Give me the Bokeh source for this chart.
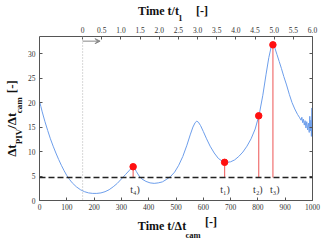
from bokeh.plotting import figure
from bokeh.models import (Range1d, LinearAxis, FixedTicker, Span, Arrow,
                          VeeHead, NumeralTickFormatter)
from bokeh.core.properties import value
from bokeh.embed import file_html
from bokeh.resources import INLINE

# ---------------- data ----------------
t = [0, 5, 10, 20, 30, 40, 50, 60, 70, 80, 90, 100, 110, 120, 135, 150, 165, 180,
     195, 210, 225, 240, 255, 270, 285, 300, 315, 330, 338, 343, 348, 355, 365,
     375, 390, 405, 420, 435, 450, 465, 480, 495, 510, 525, 540, 552, 562, 570,
     576, 582, 590, 600, 612, 625, 640, 655, 670, 685, 700, 715, 730, 745, 760,
     775, 790, 805, 818, 830, 840, 848, 854, 858, 863, 870, 878, 886, 895, 905,
     915, 925, 935, 945, 953, 958, 961, 964, 967, 970, 973, 976, 979, 982, 985,
     988, 990, 992, 994, 996, 998, 999, 1000]
ratio = [20.3, 19.2, 18.1, 16.1, 14.3, 12.6, 11.1, 9.7, 8.4, 7.2, 6.1, 5.1, 4.3,
         3.6, 2.8, 2.2, 1.8, 1.55, 1.45, 1.45, 1.55, 1.8, 2.2, 2.8, 3.5, 4.4, 5.3,
         6.2, 6.7, 6.9, 6.6, 5.9, 5.0, 4.4, 3.9, 3.6, 3.5, 3.6, 3.8, 4.3, 4.9, 5.8,
         7.2, 9.0, 11.3, 13.4, 15.0, 15.9, 16.2, 16.0, 15.3, 14.1, 12.6, 11.1, 9.7,
         8.6, 8.0, 7.8, 7.9, 8.3, 9.0, 9.9, 11.1, 12.6, 14.6, 17.6, 21.5, 25.8,
         29.2, 31.2, 31.8, 31.7, 31.0, 29.8, 28.4, 27.0, 25.3, 23.6, 21.7, 20.0,
         18.7, 17.6, 16.9, 16.4, 17.0, 15.9, 16.6, 15.4, 16.3, 14.8, 16.1, 14.4,
         15.8, 13.9, 17.2, 14.2, 16.4, 13.1, 18.9, 13.4, 14.5]

mark_t = [343, 678, 803, 855]
mark_y = [6.9, 7.8, 17.3, 31.8]
mark_labels = ["t₄)", "t₁)", "t₂)", "t₃)"]
label_t = [350, 680, 800, 862]
label_y = [2.2, 2.2, 2.2, 2.2]
threshold = 4.7

t_ref = 158.0            # t / t1 = 0
t1 = (1000 - t_ref) / 6  # scale of the upper axis

bottom_ticks = [0, 100, 200, 300, 400, 500, 600, 700, 800, 900, 1000]
left_ticks = [0, 5, 10, 15, 20, 25, 30]
top_ticks = [0, 0.5, 1.0, 1.5, 2.0, 2.5, 3.0, 3.5, 4.0, 4.5, 5.0, 5.5, 6.0]
top_labels = ["0", "0.5", "1.0", "1.5", "2.0", "2.5", "3.0", "3.5", "4.0",
              "4.5", "5.0", "5.5", "6.0"]

# axis titles, split into normal text and subscripts (em spaces keep gaps)
EM, EN, THREE, FOUR, THIN, HAIR = "\u2003", "\u2002", "\u2004", "\u2005", "\u2009", "\u200a"
x_title = "Time t/Δt" + EM + EM + THREE
x_title_unit = EM * 5 + EN + THREE + "[-]"
x_title_sub = EM * 4 + "cam"
top_title = "Time t/t" + EM + THREE + HAIR + "[-]" + EN
top_title_sub = EM + "1"
y_title = "Δt" + EM + THIN + "/Δt" + EM + FOUR + " [-]"
y_title_sub = "PIV" + EM + EN + THIN + "cam" + EN

# ---------------- figure ----------------
W, H = 333, 242
SERIF = "Liberation Serif"
AX = "#555555"

p = figure(width=W, height=H, x_range=Range1d(0, 1000), y_range=Range1d(0, 33.5),
           output_backend="svg", toolbar_location=None,
           min_border_left=36, min_border_right=21, min_border_top=34,
           min_border_bottom=34)
p.outline_line_color = None
p.xgrid.visible = False
p.ygrid.visible = False


def style(ax, standoff=3):
    ax.axis_line_color = AX
    ax.major_tick_line_color = AX
    ax.minor_tick_line_color = None
    ax.major_tick_in = 3
    ax.major_tick_out = 0
    ax.major_label_text_font = SERIF
    ax.major_label_text_font_size = "7.5px"
    ax.major_label_text_color = "#333333"
    ax.major_label_standoff = standoff


def title_style(ax, text, size, standoff):
    ax.axis_label = text
    ax.axis_label_text_font = SERIF
    ax.axis_label_text_font_size = size
    ax.axis_label_text_font_style = "bold"
    ax.axis_label_text_color = "#111111"
    ax.axis_label_standoff = standoff


def carrier(**kw):
    ax = LinearAxis(ticker=FixedTicker(ticks=[]), **kw)
    ax.axis_line_color = None
    ax.major_tick_line_color = None
    ax.minor_tick_line_color = None
    ax.major_tick_in = 0
    ax.major_tick_out = 0
    ax.major_label_standoff = 0
    return ax


# bottom axis (ticks) + carriers for the unit, the title and its subscript
xa = p.xaxis[0]
xa.ticker = FixedTicker(ticks=bottom_ticks)
style(xa, 3)
xunit = carrier()
title_style(xunit, x_title_unit, "12px", 2)
p.add_layout(xunit, "below")
xmain = carrier()
title_style(xmain, x_title, "12px", -13)
p.add_layout(xmain, "below")
xsub = carrier()
title_style(xsub, x_title_sub, "8.5px", -6)
p.add_layout(xsub, "below")

# left axis (ticks + subscript) and an outer carrier for the main title
ya = p.yaxis[0]
ya.ticker = FixedTicker(ticks=left_ticks)
style(ya, 4)
title_style(ya, y_title_sub, "9px", 1)
ymain = carrier()
title_style(ymain, y_title, "13px", -8)
p.add_layout(ymain, "left")

# upper axis in t/t1 (ticks + subscript) and outer carrier for the main title
p.extra_x_ranges = {"tt1": Range1d((0 - t_ref) / t1, (1000 - t_ref) / t1)}
top = LinearAxis(x_range_name="tt1", ticker=FixedTicker(ticks=top_ticks),
                 formatter=NumeralTickFormatter(format="0.0"),
                 major_label_overrides=dict(zip(top_ticks, top_labels)))
style(top, 4)
title_style(top, top_title_sub, "8.5px", 1)
p.add_layout(top, "above")
topmain = carrier(x_range_name="tt1")
title_style(topmain, top_title, "12px", -8)
p.add_layout(topmain, "above")

# right axis: ticks only
right = LinearAxis(ticker=FixedTicker(ticks=left_ticks),
                   major_label_overrides={v: "" for v in left_ticks})
style(right, 0)
p.add_layout(right, "right")

# reference lines
p.add_layout(Span(location=t_ref, dimension="height", line_color="#b0b0b0",
                  line_dash="1 2", line_width=1))
p.add_layout(Span(location=threshold, dimension="width", line_color="#222222",
                  line_dash="6 3", line_width=1.6))
p.add_layout(Arrow(end=VeeHead(size=5, line_color="#888888", fill_color="#888888",
                               line_width=1),
                   x_start=t_ref, y_start=32.55, x_end=222, y_end=32.55,
                   line_color="#888888", line_width=1))

# data
p.line(t, ratio, line_color="#6d9eeb", line_width=1)
p.segment(x0=mark_t, y0=[threshold] * len(mark_t), x1=mark_t, y1=mark_y,
          line_color="#f07070", line_width=1.2)
p.scatter(mark_t, mark_y, size=6.5, color="#ff1010")
p.text(x=label_t, y=label_y, text=mark_labels, text_font=value(SERIF),
       text_font_size="10px", text_align="center", text_baseline="middle",
       text_color="#333333")

open("out.html", "w").write(file_html(p, INLINE))
